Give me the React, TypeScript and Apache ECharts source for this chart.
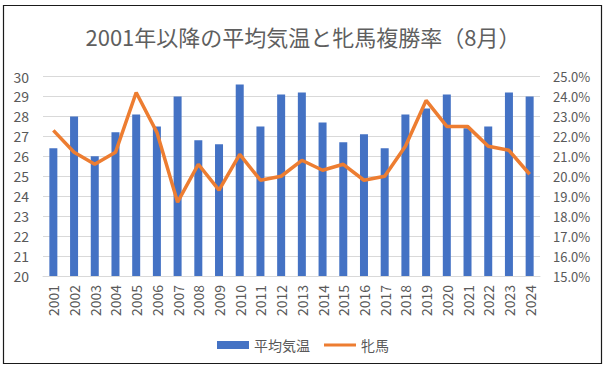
import React, { useEffect, useRef } from "react";
import * as echarts from "echarts";

const years = ["2001","2002","2003","2004","2005","2006","2007","2008","2009","2010","2011","2012","2013","2014","2015","2016","2017","2018","2019","2020","2021","2022","2023","2024"];
const avgTemp = [26.4,28.0,26.0,27.2,28.1,27.5,29.0,26.8,26.6,29.6,27.5,29.1,29.2,27.7,26.7,27.1,26.4,28.1,28.4,29.1,27.4,27.5,29.2,29.0];
const mareRate = [22.3,21.2,20.6,21.2,24.2,22.2,18.7,20.6,19.3,21.1,19.8,20.0,20.8,20.3,20.6,19.8,20.0,21.5,23.8,22.5,22.5,21.5,21.3,20.1];

const titleText = "2001年以降の平均気温と牝馬複勝率（8月）";
const FONT = "'Noto Sans CJK JP', 'Noto Sans', sans-serif";

export default function App() {
  const ref = useRef<HTMLDivElement>(null);
  useEffect(() => {
    if (!ref.current) return;
    const chart = echarts.init(ref.current, null, { renderer: "svg" });
    chart.setOption({
      animation: false,
      backgroundColor: "#ffffff",
      textStyle: { fontFamily: FONT },
      title: {
        text: titleText,
        left: "center",
        top: 20,
        textStyle: { fontFamily: FONT, fontSize: 22, fontWeight: "normal", color: "#5f5f5f" },
      },
      graphic: [
        {
          type: "rect",
          shape: { x: 3.5, y: 5.5, width: 598, height: 358 },
          style: { fill: "none", stroke: "#1a1a1a", lineWidth: 1.2 },
          silent: true,
        },
      ],
      legend: {
        data: [
          { name: "平均気温", icon: "rect" },
          { name: "牝馬", icon: "path://M0 0H32V3H0Z" },
        ],
        left: "center",
        top: 333,
        itemWidth: 32,
        itemHeight: 8,
        itemGap: 14,
        textStyle: { fontFamily: FONT, fontSize: 14, color: "#595959" },
      },
      grid: { left: 43, right: 66, top: 76.5, bottom: 91 },
      xAxis: {
        type: "category",
        data: years,
        axisTick: { show: false },
        axisLine: { lineStyle: { color: "#d9d9d9" } },
        axisLabel: { rotate: 90, interval: 0, margin: 9, fontSize: 14, color: "#595959", fontFamily: FONT },
      },
      yAxis: [
        {
          type: "value",
          min: 20,
          max: 30,
          interval: 1,
          axisLabel: { fontSize: 14, color: "#595959", margin: 14, fontFamily: FONT },
          splitLine: { lineStyle: { color: "#d9d9d9" } },
          axisLine: { show: false },
          axisTick: { show: false },
        },
        {
          type: "value",
          min: 15,
          max: 25,
          interval: 1,
          axisLabel: {
            fontSize: 13,
            color: "#595959",
            margin: 13,
            fontFamily: FONT,
            formatter: (v: number) => v.toFixed(1) + "%",
          },
          splitLine: { show: false },
          axisLine: { show: false },
          axisTick: { show: false },
        },
      ],
      series: [
        {
          name: "平均気温",
          type: "bar",
          data: avgTemp,
          barWidth: 8,
          itemStyle: { color: "#4472C4" },
          yAxisIndex: 0,
        },
        {
          name: "牝馬",
          type: "line",
          data: mareRate,
          yAxisIndex: 1,
          symbol: "none",
          lineStyle: { color: "#ED7D31", width: 3.5 },
          itemStyle: { color: "#ED7D31" },
        },
      ],
    });
    return () => chart.dispose();
  }, []);
  return (
    <div
      ref={ref}
      style={{ position: "absolute", left: 0, top: 0, width: 606, height: 367 }}
    />
  );
}
